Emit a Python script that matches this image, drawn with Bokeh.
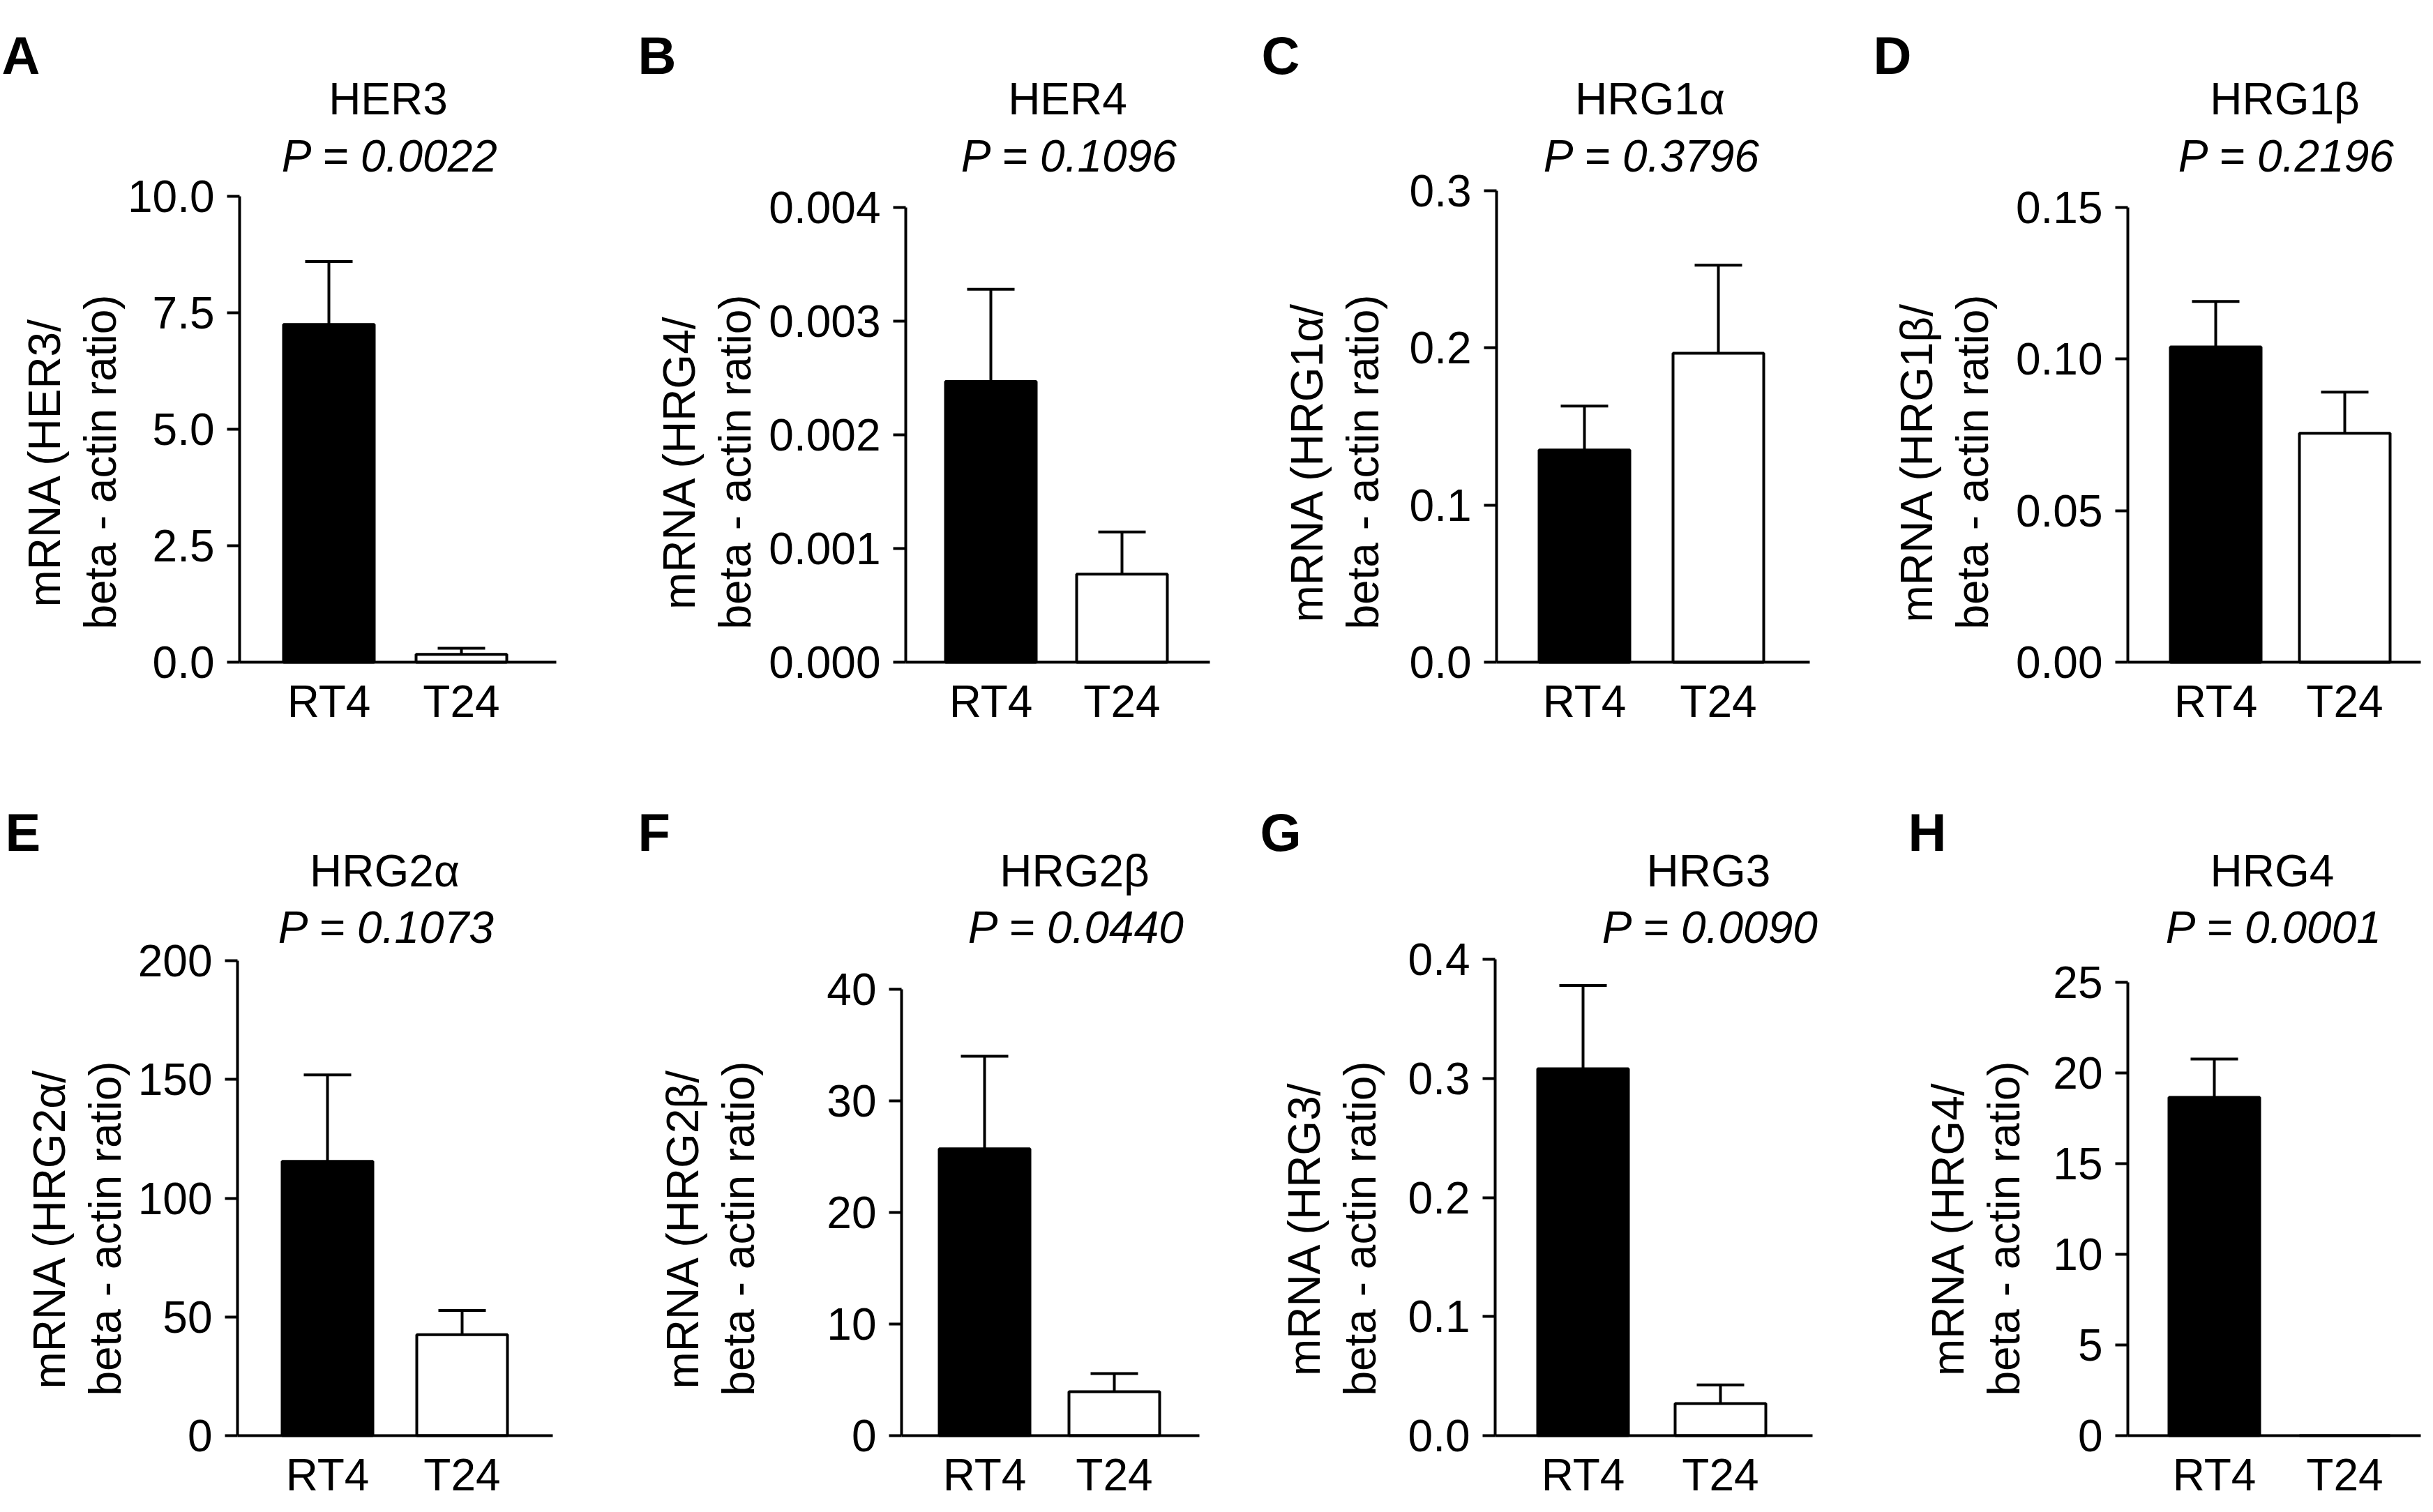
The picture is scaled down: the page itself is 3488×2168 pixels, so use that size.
import math
from bokeh.plotting import figure
from bokeh.models import Range1d, FixedTicker, PrintfTickFormatter, LinearAxis, ColumnDataSource
from bokeh.core.properties import value
from bokeh.layouts import row, column
from bokeh.embed import file_html
from bokeh.resources import INLINE

# ---------------- data ----------------
letters = ["A", "B", "C", "D", "E", "F", "G", "H"]
genes = ["HER3", "HER4", "HRG1α", "HRG1β", "HRG2α", "HRG2β", "HRG3", "HRG4"]
p_values = ["0.0022", "0.1096", "0.3796", "0.2196", "0.1073", "0.0440", "0.0090", "0.0001"]
ylabel_markers = ["HER3", "HRG4", "HRG1α", "HRG1β", "HRG2α", "HRG2β", "HRG3", "HRG4"]
cell_lines = ["RT4", "T24"]
rt4_mean = [7.25, 0.00247, 0.135, 0.104, 115.5, 25.7, 0.308, 18.65]
rt4_sem = [1.35, 0.00081, 0.028, 0.015, 36.4, 8.3, 0.070, 2.12]
t24_mean = [0.17, 0.000775, 0.1966, 0.0755, 42.5, 3.94, 0.027, 0.0]
t24_sem = [0.13, 0.00037, 0.056, 0.0136, 10.2, 1.63, 0.0156, 0.0]
y_ticks = [
    [0, 2.5, 5.0, 7.5, 10.0],
    [0, 0.001, 0.002, 0.003, 0.004],
    [0, 0.1, 0.2, 0.3],
    [0, 0.05, 0.10, 0.15],
    [0, 50, 100, 150, 200],
    [0, 10, 20, 30, 40],
    [0, 0.1, 0.2, 0.3, 0.4],
    [0, 5, 10, 15, 20, 25],
]
tick_formats = ["%.1f", "%.3f", "%.1f", "%.2f", "%d", "%d", "%.1f", "%d"]

# ---------------- layout (pixels, reference frame) ----------------
FONT = "Liberation Sans"
FS = "64px"
LW = 4
fig_lr = [(0, 880), (880, 1760), (1760, 2600), (2600, 3472),
          (0, 880), (880, 1780), (1780, 2660), (2660, 3472)]
row_ref_top = [0, 1100]      # reference y at which each row's canvas starts
row_h = [1078, 1074]         # canvas heights (row 2 sits 14px higher than the reference)
axis_x = [343, 1298, 2145, 3050, 340, 1292, 2143, 3050]
x_end = [797, 1734, 2594, 3470, 792, 1719, 2598, 3470]
top_y = [281, 297, 273, 297, 1399, 1440, 1397, 1430]
zero_y = [949, 949, 949, 949, 2080, 2080, 2080, 2080]
rt4_px = [471, 1420, 2271, 3176, 469, 1411, 2269, 3174]
t24_px = [661, 1608, 2463, 3361, 662, 1597, 2466, 3361]
letter_x = [2, 914, 1808, 2685, 7, 914, 1806, 2735]
title_cx = [556, 1530, 2365, 3275, 551, 1540, 2449, 3257]
ylab_d1 = [280, 325, 272, 303, 270, 314, 274, 258]
letter_base = [79, 1215]
title_base = [141, 1270]
p_base = [223, 1351]
ylab_center = [662, 1783]
BAR_PX = 130
CAP_HALF_PX = 34

figs = []
for i in range(8):
    r = 0 if i < 4 else 1
    fl, fr = fig_lr[i]
    ftop = row_ref_top[r]
    fh = row_h[r]
    ymax = y_ticks[i][-1]
    s = float(t24_px[i] - rt4_px[i])            # px per category step
    k = (zero_y[i] - top_y[i]) / ymax           # px per value unit

    def X(px, i=i, s=s):
        return (px - rt4_px[i]) / s

    def Y(py, i=i, k=k):
        return (zero_y[i] - py) / k

    p = figure(frame_width=fr - fl, frame_height=fh,
               x_range=Range1d(X(fl), X(fr)), y_range=Range1d(Y(ftop + fh), Y(ftop)),
               x_axis_location=None, y_axis_location=None,
               output_backend="svg", toolbar_location=None,
               min_border=0, min_border_left=0, min_border_right=0,
               min_border_top=0, min_border_bottom=0,
               background_fill_color="white", border_fill_color="white")
    p.outline_line_color = None
    p.grid.visible = False

    xidx = list(range(len(cell_lines)))
    means = [rt4_mean[i], t24_mean[i]]
    sems = [rt4_sem[i], t24_sem[i]]
    src = ColumnDataSource(dict(x=xidx, top=means, fill=["black", "white"]))
    p.vbar(x="x", top="top", bottom=0, width=BAR_PX / s, source=src,
           fill_color="fill", line_color="black", line_width=LW)

    ex = [xidx[j] for j in range(2) if sems[j] > 0]
    em = [means[j] for j in range(2) if sems[j] > 0]
    et = [means[j] + sems[j] for j in range(2) if sems[j] > 0]
    ch = CAP_HALF_PX / s
    p.segment(x0=ex, y0=em, x1=ex, y1=et, line_color="black", line_width=LW)
    p.segment(x0=[v - ch for v in ex], y0=et, x1=[v + ch for v in ex], y1=et,
              line_color="black", line_width=LW)

    # y axis, fixed at its position inside the canvas
    ya = LinearAxis(fixed_location=X(axis_x[i]), bounds=(0, ymax))
    ya.ticker = FixedTicker(ticks=y_ticks[i])
    ya.formatter = PrintfTickFormatter(format=tick_formats[i])
    ya.major_tick_out = 18
    ya.major_tick_in = 0
    ya.minor_tick_out = 0
    ya.minor_tick_in = 0
    ya.major_tick_line_width = LW
    ya.axis_line_width = LW
    ya.major_label_text_font = FONT
    ya.major_label_text_font_size = FS
    ya.major_label_text_color = "black"
    ya.major_label_standoff = 18
    p.add_layout(ya, "left")

    # x axis at zero
    xa = LinearAxis(fixed_location=0, bounds=(X(axis_x[i]), X(x_end[i])))
    xa.ticker = FixedTicker(ticks=xidx)
    xa.major_label_overrides = {j: cell_lines[j] for j in xidx}
    xa.major_tick_out = 0
    xa.major_tick_in = 0
    xa.minor_tick_out = 0
    xa.minor_tick_in = 0
    xa.axis_line_width = LW
    xa.major_label_text_font = FONT
    xa.major_label_text_font_size = FS
    xa.major_label_text_color = "black"
    xa.major_label_standoff = 20
    p.add_layout(xa, "below")

    def txt(xp, yp, t, size=FS, style="normal", align="left", angle=0.0):
        p.text(x=[X(xp)], y=[Y(yp)], text=[t], angle=angle,
               text_font=value(FONT), text_font_size=value(size),
               text_font_style=style, text_align=align,
               text_baseline="alphabetic", text_color="black")

    txt(letter_x[i], letter_base[r], letters[i], size="76px", style="bold")
    txt(title_cx[i], title_base[r], genes[i], align="center")
    txt(title_cx[i] + 3, p_base[r], "P = " + p_values[i], style="italic", align="center")
    txt(axis_x[i] - ylab_d1[i], ylab_center[r], "mRNA (" + ylabel_markers[i] + "/",
        align="center", angle=math.pi / 2)
    txt(axis_x[i] - ylab_d1[i] + 80, ylab_center[r], "beta - actin ratio)",
        align="center", angle=math.pi / 2)
    figs.append(p)

layout = column(row(*figs[:4], spacing=0), row(*figs[4:], spacing=0), spacing=0)
open("out.html", "w").write(file_html(layout, INLINE))
